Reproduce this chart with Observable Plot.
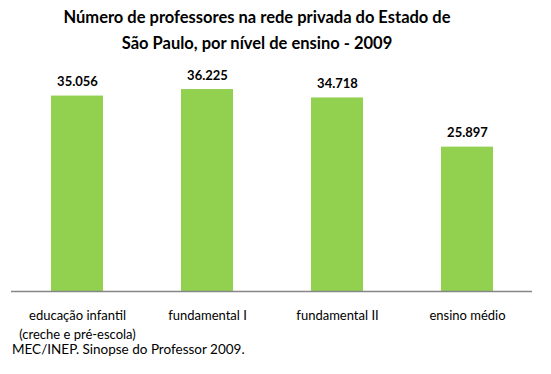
<!DOCTYPE html>
<html>
<head>
<meta charset="utf-8">
<script src="https://cdn.jsdelivr.net/npm/d3@7"></script>
<script src="https://cdn.jsdelivr.net/npm/@observablehq/plot@0.6"></script>
<style>
  html, body { margin: 0; padding: 0; background: #fff; }
  body { position: relative; width: 551px; height: 374px; overflow: hidden; font-family: Lato, "Open Sans", sans-serif; color: #000; }
  #title { width: 514px; height: 58px; box-sizing: border-box; padding-top: 4px; text-align: center; font-weight: bold; font-size: 16.5px; line-height: 26px; }
  #caption { position: absolute; left: 12px; top: 340px; font-size: 13.5px; line-height: 18px; }
  svg { display: block; }
</style>
</head>
<body>
<div id="title">Número de professores na rede privada do Estado de<br>São Paulo, por nível de ensino - 2009</div>
<div id="chart"></div>
<div id="caption">MEC/INEP. Sinopse do Professor 2009.</div>
<script>
const categories = ["educação infantil\n(creche e pré-escola)", "fundamental I", "fundamental II", "ensino médio"];
const values = [35056, 36225, 34718, 25897];

const data = categories.map((c, i) => ({category: c, value: values[i]}));
const fmt = d3.formatLocale({decimal: ",", thousands: ".", grouping: [3]}).format(",d");

const chart = Plot.plot({
  width: 551,
  height: 282,
  marginTop: 10,
  marginBottom: 49,
  marginLeft: 11,
  marginRight: 19,
  style: {fontFamily: "Lato, 'Open Sans', sans-serif", background: "#fff", color: "#000", overflow: "visible"},
  x: {domain: categories, paddingInner: 0.6, paddingOuter: 0.3, axis: null},
  y: {domain: [0, 40000], axis: null},
  marks: [
    Plot.barY(data, {x: "category", y: "value", fill: "#92D050"}),
    Plot.ruleY([0], {stroke: "#868686", strokeWidth: 1.3}),
    Plot.text(data, {x: "category", y: "value", text: d => fmt(d.value), dy: -14, fontSize: 13, fontWeight: "bold", fill: "#000"}),
    Plot.text(data, {x: "category", y: 0, text: "category", lineAnchor: "top", dy: 15, fontSize: 13, lineHeight: 1.45, fill: "#000"})
  ]
});
document.getElementById("chart").appendChild(chart);
</script>
</body>
</html>
